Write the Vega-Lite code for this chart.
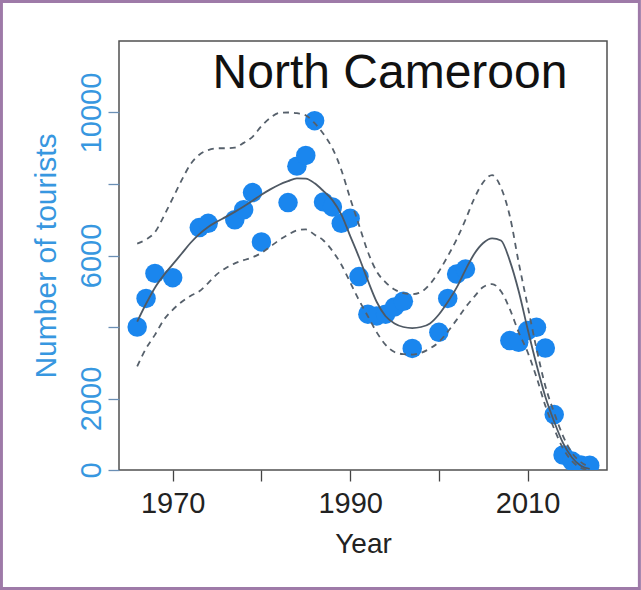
{
  "$schema": "https://vega.github.io/schema/vega-lite/v6.json",
  "width": 488,
  "height": 429,
  "autosize": {"type": "none"},
  "padding": {"left": 119, "top": 41, "right": 34, "bottom": 120},
  "background": "white",
  "config": {
    "view": {"stroke": "#505050", "strokeWidth": 1.5},
    "font": "Liberation Sans"
  },
  "datasets": {
    "points": [
      {"year": 1966, "tourists": 4000},
      {"year": 1967, "tourists": 4800},
      {"year": 1968, "tourists": 5500},
      {"year": 1970, "tourists": 5380},
      {"year": 1973, "tourists": 6780},
      {"year": 1974, "tourists": 6900},
      {"year": 1977, "tourists": 7000},
      {"year": 1978, "tourists": 7280},
      {"year": 1979, "tourists": 7760},
      {"year": 1980, "tourists": 6380},
      {"year": 1983, "tourists": 7480},
      {"year": 1984, "tourists": 8500},
      {"year": 1985, "tourists": 8800},
      {"year": 1986, "tourists": 9770},
      {"year": 1987, "tourists": 7500},
      {"year": 1988, "tourists": 7360},
      {"year": 1989, "tourists": 6900},
      {"year": 1990, "tourists": 7040},
      {"year": 1991, "tourists": 5410},
      {"year": 1992, "tourists": 4360},
      {"year": 1993, "tourists": 4310},
      {"year": 1994, "tourists": 4360},
      {"year": 1995, "tourists": 4560},
      {"year": 1996, "tourists": 4720},
      {"year": 1997, "tourists": 3400},
      {"year": 2000, "tourists": 3850},
      {"year": 2001, "tourists": 4800},
      {"year": 2002, "tourists": 5480},
      {"year": 2003, "tourists": 5620},
      {"year": 2008, "tourists": 3620},
      {"year": 2009, "tourists": 3570},
      {"year": 2010, "tourists": 3900},
      {"year": 2011, "tourists": 3990},
      {"year": 2012, "tourists": 3410},
      {"year": 2013, "tourists": 1550},
      {"year": 2014, "tourists": 420},
      {"year": 2015, "tourists": 250},
      {"year": 2016, "tourists": 140},
      {"year": 2017, "tourists": 130}
    ],
    "fit": [
      {"year": 1966, "fit": 4150, "lo": 2900, "hi": 6330},
      {"year": 1967, "fit": 4650, "lo": 3400, "hi": 6450},
      {"year": 1968, "fit": 5100, "lo": 3780, "hi": 6650},
      {"year": 1969, "fit": 5450, "lo": 4200, "hi": 7100},
      {"year": 1970, "fit": 5750, "lo": 4480, "hi": 7600},
      {"year": 1971, "fit": 6050, "lo": 4700, "hi": 8100},
      {"year": 1972, "fit": 6350, "lo": 4870, "hi": 8550},
      {"year": 1973, "fit": 6600, "lo": 5000, "hi": 8820},
      {"year": 1974, "fit": 6800, "lo": 5230, "hi": 8950},
      {"year": 1975, "fit": 6950, "lo": 5480, "hi": 9000},
      {"year": 1976, "fit": 7080, "lo": 5650, "hi": 9000},
      {"year": 1977, "fit": 7220, "lo": 5780, "hi": 9020},
      {"year": 1978, "fit": 7370, "lo": 5870, "hi": 9150},
      {"year": 1979, "fit": 7530, "lo": 5950, "hi": 9320},
      {"year": 1980, "fit": 7700, "lo": 6070, "hi": 9620},
      {"year": 1981, "fit": 7850, "lo": 6250, "hi": 9850},
      {"year": 1982, "fit": 7980, "lo": 6430, "hi": 9990},
      {"year": 1983, "fit": 8080, "lo": 6580, "hi": 10000},
      {"year": 1984, "fit": 8160, "lo": 6700, "hi": 9980},
      {"year": 1985, "fit": 8150, "lo": 6730, "hi": 9920},
      {"year": 1986, "fit": 8020, "lo": 6580, "hi": 9700},
      {"year": 1987, "fit": 7800, "lo": 6420, "hi": 9400},
      {"year": 1988, "fit": 7550, "lo": 6130, "hi": 9000},
      {"year": 1989, "fit": 7150, "lo": 5750, "hi": 8400},
      {"year": 1990, "fit": 6550, "lo": 5250, "hi": 7600},
      {"year": 1991, "fit": 5950, "lo": 4750, "hi": 6850},
      {"year": 1992, "fit": 5300, "lo": 4300, "hi": 6100},
      {"year": 1993, "fit": 4700, "lo": 3850, "hi": 5550},
      {"year": 1994, "fit": 4300, "lo": 3500, "hi": 5250},
      {"year": 1995, "fit": 4100, "lo": 3300, "hi": 5050},
      {"year": 1996, "fit": 4000, "lo": 3240, "hi": 4950},
      {"year": 1997, "fit": 3970, "lo": 3230, "hi": 4920},
      {"year": 1998, "fit": 4000, "lo": 3280, "hi": 4980},
      {"year": 1999, "fit": 4100, "lo": 3400, "hi": 5200},
      {"year": 2000, "fit": 4350, "lo": 3580, "hi": 5550},
      {"year": 2001, "fit": 4700, "lo": 3870, "hi": 5980},
      {"year": 2002, "fit": 5100, "lo": 4200, "hi": 6450},
      {"year": 2003, "fit": 5600, "lo": 4550, "hi": 7000},
      {"year": 2004, "fit": 6050, "lo": 4850, "hi": 7600},
      {"year": 2005, "fit": 6350, "lo": 5120, "hi": 8050},
      {"year": 2006, "fit": 6480, "lo": 5200, "hi": 8250},
      {"year": 2007, "fit": 6420, "lo": 5000, "hi": 7900},
      {"year": 2008, "fit": 5850, "lo": 4500, "hi": 7100},
      {"year": 2009, "fit": 5000, "lo": 3850, "hi": 5800},
      {"year": 2010, "fit": 3950, "lo": 3300, "hi": 4600},
      {"year": 2011, "fit": 2950, "lo": 2600, "hi": 3400},
      {"year": 2012, "fit": 2050, "lo": 1800, "hi": 2350},
      {"year": 2013, "fit": 1350, "lo": 1150, "hi": 1600},
      {"year": 2014, "fit": 750, "lo": 600, "hi": 950},
      {"year": 2015, "fit": 350, "lo": 250, "hi": 480},
      {"year": 2016, "fit": 120, "lo": 60, "hi": 220},
      {"year": 2017, "fit": 30, "lo": 0, "hi": 90}
    ]
  },
  "layer": [
    {
      "data": {"name": "points"},
      "mark": {"type": "point", "shape": "circle", "filled": true, "size": 380, "opacity": 1, "color": "#1a86ee", "clip": true},
      "encoding": {
        "x": {
          "field": "year", "type": "quantitative",
          "scale": {"domain": [1963.95, 2018.95], "nice": false, "zero": false},
          "axis": {
            "title": "Year",
            "values": [1970, 1980, 1990, 2000, 2010],
            "format": "d",
            "labelExpr": "datum.value % 20 == 10 ? datum.label : ''",
            "grid": false, "domain": false,
            "tickSize": 11, "tickColor": "#444444", "tickWidth": 1.3,
            "labelFont": "Liberation Sans", "labelFontSize": 29, "labelColor": "#222222", "labelPadding": 8,
            "titleFont": "Liberation Sans", "titleFontSize": 28, "titleFontWeight": "normal", "titleColor": "#222222", "titlePadding": 12
          }
        },
        "y": {
          "field": "tourists", "type": "quantitative",
          "scale": {"domain": [0, 12000], "nice": false},
          "axis": {
            "title": "Number of tourists",
            "values": [0, 2000, 4000, 6000, 8000, 10000],
            "format": "d",
            "labelExpr": "indexof([0, 2000, 6000, 10000], datum.value) >= 0 ? datum.label : ''",
            "grid": false, "domain": false,
            "tickSize": 11, "tickColor": "#6a8fb5", "tickWidth": 1.3,
            "labelAngle": -90, "labelAlign": "center", "labelBaseline": "alphabetic",
            "labelFont": "Liberation Sans", "labelFontSize": 29, "labelColor": "#3797e0", "labelPadding": 8,
            "titleFont": "Liberation Sans", "titleFontSize": 30, "titleFontWeight": "normal", "titleColor": "#3797e0", "titlePadding": 16
          }
        }
      }
    },
    {
      "data": {"name": "fit"},
      "mark": {"type": "line", "color": "#56606b", "strokeWidth": 1.8, "strokeDash": [6, 5], "interpolate": "monotone", "clip": true},
      "encoding": {
        "x": {"field": "year", "type": "quantitative", "scale": {"domain": [1963.95, 2018.95], "nice": false, "zero": false}},
        "y": {"field": "hi", "type": "quantitative", "scale": {"domain": [0, 12000], "nice": false}}
      }
    },
    {
      "data": {"name": "fit"},
      "mark": {"type": "line", "color": "#56606b", "strokeWidth": 1.8, "strokeDash": [6, 5], "interpolate": "monotone", "clip": true},
      "encoding": {
        "x": {"field": "year", "type": "quantitative", "scale": {"domain": [1963.95, 2018.95], "nice": false, "zero": false}},
        "y": {"field": "lo", "type": "quantitative", "scale": {"domain": [0, 12000], "nice": false}}
      }
    },
    {
      "data": {"name": "fit"},
      "mark": {"type": "line", "color": "#4f5964", "strokeWidth": 1.8, "interpolate": "monotone", "clip": true},
      "encoding": {
        "x": {"field": "year", "type": "quantitative", "scale": {"domain": [1963.95, 2018.95], "nice": false, "zero": false}},
        "y": {"field": "fit", "type": "quantitative", "scale": {"domain": [0, 12000], "nice": false}}
      }
    },
    {
      "data": {"values": [{}]},
      "mark": {"type": "text", "align": "left", "baseline": "alphabetic", "font": "Liberation Sans", "fontSize": 48, "color": "#111111"},
      "encoding": {
        "x": {"datum": 1974.5, "type": "quantitative", "scale": {"domain": [1963.95, 2018.95], "nice": false, "zero": false}},
        "y": {"datum": 10674, "type": "quantitative", "scale": {"domain": [0, 12000], "nice": false}},
        "text": {"value": "North Cameroon"}
      }
    },
    {
      "data": {"values": [{}]},
      "mark": {"type": "rect", "fill": null, "stroke": "#9e7aa8", "strokeWidth": 3, "clip": false},
      "encoding": {
        "x": {"datum": 1950.7, "type": "quantitative", "scale": {"domain": [1963.95, 2018.95], "nice": false, "zero": false}},
        "x2": {"datum": 2022.6},
        "y": {"datum": -3315, "type": "quantitative", "scale": {"domain": [0, 12000], "nice": false}},
        "y2": {"datum": 13105}
      }
    }
  ]
}
